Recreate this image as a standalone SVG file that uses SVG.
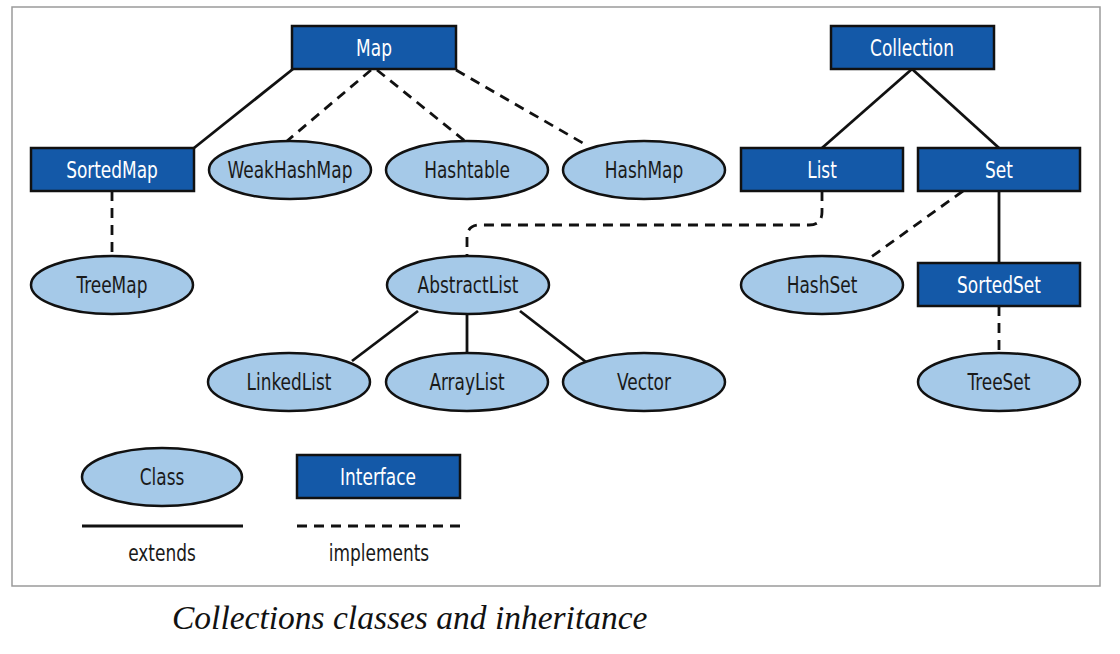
<svg xmlns="http://www.w3.org/2000/svg" width="1120" height="654" viewBox="0 0 1120 654">
<style>
.frame{fill:#fff;stroke:#9a9a9a;stroke-width:1.5}
.iface rect{fill:#1459a8;stroke:#111;stroke-width:2.5}
.iface text{fill:#fff}
.cls ellipse{fill:#a5c9e8;stroke:#111;stroke-width:2.5}
.cls text{fill:#1a1a1a}
text{font-family:"DejaVu Sans Condensed","DejaVu Sans",sans-serif;font-size:23px;text-anchor:middle;dominant-baseline:central}
.ext{stroke:#111;stroke-width:2.8;fill:none}
.imp{stroke:#111;stroke-width:2.8;fill:none;stroke-dasharray:10 7}
.caption{font-family:"Liberation Serif",serif;font-style:italic;font-size:33.5px;text-anchor:start;dominant-baseline:alphabetic;fill:#111}
.legend{fill:#1a1a1a}
</style>
<rect width="1120" height="654" fill="#fff"/>
<rect class="frame" x="12" y="7" width="1088" height="579"/>
<g id="connectors">
<line class="ext" x1="293" y1="69" x2="194" y2="148"/>
<line class="imp" x1="371" y1="70" x2="287" y2="141"/>
<line class="imp" x1="377" y1="70" x2="465" y2="141"/>
<line class="imp" x1="456" y1="70" x2="588" y2="146"/>
<line class="imp" x1="112" y1="191" x2="112" y2="257"/>
<line class="ext" x1="912" y1="69" x2="822" y2="148"/>
<line class="ext" x1="912" y1="69" x2="999" y2="148"/>
<path class="imp" d="M822 191 V212 Q822 225 809 225 H480 Q467 225 467 238 V257"/>
<line class="imp" x1="963" y1="191" x2="867" y2="260"/>
<line class="ext" x1="999" y1="191" x2="999" y2="263"/>
<line class="imp" x1="999" y1="306" x2="999" y2="354"/>
<line class="ext" x1="418" y1="311" x2="352" y2="361"/>
<line class="ext" x1="467" y1="314" x2="467" y2="354"/>
<line class="ext" x1="520" y1="311" x2="586" y2="362"/>
</g>
<g id="Map" class="iface"><rect x="292" y="26" width="164" height="43"/><text transform="translate(374 48) scale(0.82 1)">Map</text></g>
<g id="Collection" class="iface"><rect x="831" y="26" width="163" height="43"/><text transform="translate(912 48) scale(0.82 1)">Collection</text></g>
<g id="SortedMap" class="iface"><rect x="31" y="148" width="163" height="43"/><text transform="translate(112 170) scale(0.82 1)">SortedMap</text></g>
<g id="List" class="iface"><rect x="741" y="148" width="162" height="43"/><text transform="translate(822 170) scale(0.82 1)">List</text></g>
<g id="Set" class="iface"><rect x="918" y="148" width="162" height="43"/><text transform="translate(999 170) scale(0.82 1)">Set</text></g>
<g id="SortedSet" class="iface"><rect x="918" y="263" width="162" height="43"/><text transform="translate(999 285) scale(0.82 1)">SortedSet</text></g>
<g id="WeakHashMap" class="cls"><ellipse cx="290" cy="170" rx="81" ry="29"/><text transform="translate(290 170) scale(0.82 1)">WeakHashMap</text></g>
<g id="Hashtable" class="cls"><ellipse cx="467" cy="170" rx="81" ry="29"/><text transform="translate(467 170) scale(0.82 1)">Hashtable</text></g>
<g id="HashMap" class="cls"><ellipse cx="644" cy="170" rx="81" ry="29"/><text transform="translate(644 170) scale(0.82 1)">HashMap</text></g>
<g id="TreeMap" class="cls"><ellipse cx="112" cy="285" rx="81" ry="29"/><text transform="translate(112 285) scale(0.82 1)">TreeMap</text></g>
<g id="AbstractList" class="cls"><ellipse cx="468" cy="285" rx="81" ry="29"/><text transform="translate(468 285) scale(0.82 1)">AbstractList</text></g>
<g id="HashSet" class="cls"><ellipse cx="822" cy="285" rx="81" ry="29"/><text transform="translate(822 285) scale(0.82 1)">HashSet</text></g>
<g id="LinkedList" class="cls"><ellipse cx="289" cy="382" rx="81" ry="29"/><text transform="translate(289 382) scale(0.82 1)">LinkedList</text></g>
<g id="ArrayList" class="cls"><ellipse cx="467" cy="382" rx="81" ry="29"/><text transform="translate(467 382) scale(0.82 1)">ArrayList</text></g>
<g id="Vector" class="cls"><ellipse cx="644" cy="382" rx="81" ry="29"/><text transform="translate(644 382) scale(0.82 1)">Vector</text></g>
<g id="TreeSet" class="cls"><ellipse cx="999" cy="382" rx="81" ry="29"/><text transform="translate(999 382) scale(0.82 1)">TreeSet</text></g>
<g id="legend">
<g id="legend-class" class="cls"><ellipse cx="162" cy="477" rx="80" ry="29"/><text transform="translate(162 477) scale(0.82 1)">Class</text></g>
<g id="legend-interface" class="iface"><rect x="297" y="455" width="163" height="43"/><text transform="translate(378 477) scale(0.82 1)">Interface</text></g>
<line class="ext" x1="82" y1="526" x2="243" y2="526"/>
<line class="imp" x1="297" y1="526" x2="460" y2="526"/>
<text class="legend" transform="translate(162 553) scale(0.82 1)">extends</text>
<text class="legend" transform="translate(379 553) scale(0.82 1)">implements</text>
</g>
<text class="caption" x="172" y="629">Collections classes and inheritance</text>
</svg>
